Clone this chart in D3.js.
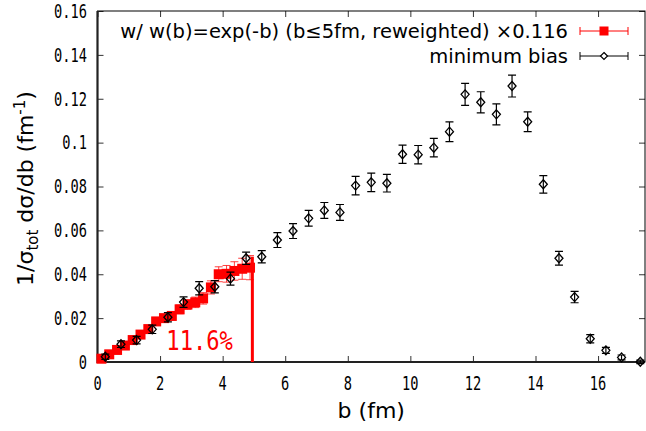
<!DOCTYPE html>
<html>
<head>
<meta charset="utf-8">
<script src="https://cdn.jsdelivr.net/npm/d3@7/dist/d3.min.js"></script>
<style>
  body { margin: 0; background: #fff; }
</style>
</head>
<body>
<div id="chart"></div>
<script>
// minimum bias
const mbB = [0.25, 0.75, 1.25, 1.75, 2.25, 2.75, 3.25, 3.75, 4.25, 4.75,
  5.25, 5.75, 6.25, 6.75, 7.25, 7.75, 8.25, 8.75, 9.25, 9.75,
  10.25, 10.75, 11.25, 11.75, 12.25, 12.75, 13.25, 13.75, 14.25, 14.75,
  15.25, 15.75, 16.25, 16.75, 17.35];
const mbVal = [0.0024, 0.0081, 0.0100, 0.0149, 0.0204, 0.0273, 0.0336, 0.0343, 0.0380, 0.0473,
  0.0480, 0.0556, 0.0597, 0.0655, 0.0691, 0.0682, 0.0804, 0.0819, 0.0815, 0.0947,
  0.0945, 0.0977, 0.1050, 0.1220, 0.1184, 0.1129, 0.1258, 0.1095, 0.0810, 0.0473,
  0.0296, 0.0106, 0.0053, 0.0021, 0.0001];
const mbErr = [0.0012, 0.0015, 0.0017, 0.0019, 0.0021, 0.0024, 0.0030, 0.0028, 0.0030, 0.0028,
  0.0028, 0.0034, 0.0034, 0.0036, 0.0036, 0.0036, 0.0042, 0.0042, 0.0040, 0.0042,
  0.0042, 0.0042, 0.0045, 0.0050, 0.0048, 0.0048, 0.0050, 0.0045, 0.0040, 0.0031,
  0.0026, 0.0019, 0.0014, 0.0011, 0.0008];

// w(b)=exp(-b), b<=5fm, reweighted x0.116
const rwB = [0.125, 0.375, 0.625, 0.875, 1.125, 1.375, 1.625, 1.875, 2.125, 2.375,
  2.625, 2.875, 3.125, 3.375, 3.625, 3.875, 4.125, 4.375, 4.625, 4.875];
const rwVal = [0.0015, 0.0035, 0.0055, 0.0075, 0.0100, 0.0125, 0.0150, 0.0185, 0.0200, 0.0210,
  0.0240, 0.0262, 0.0272, 0.0290, 0.0340, 0.0400, 0.0402, 0.0415, 0.0425, 0.0430];
const rwErr = [0.0004, 0.0006, 0.0008, 0.0009, 0.0010, 0.0012, 0.0013, 0.0015, 0.0016, 0.0018,
  0.0020, 0.0022, 0.0024, 0.0026, 0.0030, 0.0034, 0.0038, 0.0042, 0.0048, 0.0055];
const rwHalfBin = 0.125;

const cutB = 4.95;
const cutTop = 0.048;
const fractionText = '11.6%';
const fractionPos = [2.2, 0.010];

const xTicks = [0, 2, 4, 6, 8, 10, 12, 14, 16];
const yTicks = [0, 0.02, 0.04, 0.06, 0.08, 0.1, 0.12, 0.14, 0.16];
const legendLabels = ['w/ w(b)=exp(-b) (b\u22645fm, reweighted) \u00d70.116', 'minimum bias'];

function init(elem) {
  // svg
  const svgWidth = 646;
  const svgHeight = 431;
  const svg = d3.select(elem)
    .append('svg')
    .attr('width', svgWidth)
    .attr('height', svgHeight);

  // plot area
  const margin = { top: 11, right: 1, bottom: 69, left: 97.5 };
  const width = svgWidth - margin.left - margin.right;
  const height = svgHeight - margin.top - margin.bottom;
  const graph = svg.append('g')
    .attr('transform', `translate(${margin.left},${margin.top})`);

  const x = d3.scaleLinear().domain([0, 17.5]).range([0, width]);
  const y = d3.scaleLinear().domain([0, 0.16]).range([height, 0]);

  const tickColor = '#333';
  // inward ticks on all sides
  const axes = [
    [d3.axisBottom(x).tickValues(xTicks), `translate(0,${height})`],
    [d3.axisTop(x).tickValues(xTicks), 'translate(0,0)'],
    [d3.axisLeft(y).tickValues(yTicks), 'translate(0,0)'],
    [d3.axisRight(y).tickValues(yTicks), `translate(${width},0)`]
  ];
  axes.forEach(([ax, tr]) => {
    const g = graph.append('g')
      .attr('transform', tr)
      .call(ax.tickSize(-6).tickFormat(''));
    g.select('.domain').remove();
    g.selectAll('line').attr('stroke', tickColor).attr('stroke-width', 1);
  });

  // border
  graph.append('rect')
    .attr('width', width).attr('height', height)
    .attr('fill', 'none').attr('stroke', '#000').attr('stroke-width', 1);
  graph.append('path')
    .attr('d', `M0,0V${height}H${width}`)
    .attr('fill', 'none').attr('stroke', '#222').attr('stroke-width', 2.2);

  // tick labels (narrow mono)
  const tickFont = 'DejaVu Sans Mono, monospace';
  graph.append('g').selectAll('text')
    .data(xTicks)
    .join('text')
    .attr('transform', d => `translate(${x(d)},${height + 21}) scale(0.72,1)`)
    .attr('text-anchor', 'middle')
    .attr('dy', '0.36em')
    .attr('font-family', tickFont)
    .attr('font-size', 19)
    .text(d => d);
  graph.append('g').selectAll('text')
    .data(yTicks)
    .join('text')
    .attr('transform', d => `translate(-10.5,${y(d)}) scale(0.72,1)`)
    .attr('text-anchor', 'end')
    .attr('dy', '0.36em')
    .attr('font-family', tickFont)
    .attr('font-size', 19)
    .text(d => d3.format('~g')(d));

  // axis titles
  svg.append('text')
    .attr('x', margin.left + width / 2)
    .attr('y', 418)
    .attr('text-anchor', 'middle')
    .attr('font-family', 'DejaVu Sans, sans-serif')
    .attr('font-size', 22)
    .text('b (fm)');

  const yl = svg.append('text')
    .attr('transform', `translate(33,${margin.top + height / 2 + 2}) rotate(-90)`)
    .attr('text-anchor', 'middle')
    .attr('font-family', 'DejaVu Sans, sans-serif')
    .attr('font-size', 22);
  yl.append('tspan').text('1/\u03c3');
  yl.append('tspan').attr('font-size', 15).attr('dy', 5).text('tot');
  yl.append('tspan').attr('dy', -5).text(' d\u03c3/db (fm');
  yl.append('tspan').attr('font-size', 15).attr('dy', -8).text('-1');
  yl.append('tspan').attr('dy', 8).text(')');

  // reweighted series
  const rw = rwB.map((b, i) => ({ b, v: rwVal[i], e: rwErr[i] }));
  const red = '#ff0000';
  const rg = graph.append('g');
  rg.selectAll('path.err')
    .data(rw)
    .join('path')
    .attr('class', 'err')
    .attr('d', d => {
      const cx = x(d.b), cy = y(d.v);
      const y0 = y(d.v - d.e), y1 = y(d.v + d.e);
      const x0 = x(d.b - rwHalfBin), x1 = x(d.b + rwHalfBin);
      return `M${cx},${y0}V${y1}M${cx - 4},${y0}H${cx + 4}M${cx - 4},${y1}H${cx + 4}` +
        `M${x0},${cy}H${x1}M${x0},${cy - 4}V${cy + 4}M${x1},${cy - 4}V${cy + 4}`;
    })
    .attr('fill', 'none')
    .attr('stroke', red)
    .attr('stroke-opacity', 0.75)
    .attr('stroke-width', 1);
  rg.selectAll('rect')
    .data(rw)
    .join('rect')
    .attr('x', d => x(d.b) - 5)
    .attr('y', d => y(d.v) - 5)
    .attr('width', 10)
    .attr('height', 10)
    .attr('fill', red);

  // cut line at b=5fm
  graph.append('line')
    .attr('x1', x(cutB)).attr('x2', x(cutB))
    .attr('y1', y(0)).attr('y2', y(cutTop))
    .attr('stroke', red)
    .attr('stroke-width', 3);

  graph.append('text')
    .attr('transform', `translate(${x(fractionPos[0])},${y(fractionPos[1])}) scale(0.82,1)`)
    .attr('dy', '0.36em')
    .attr('font-family', tickFont)
    .attr('font-size', 27)
    .attr('fill', red)
    .text(fractionText);

  // minimum bias series
  const mb = mbB.map((b, i) => ({ b, v: mbVal[i], e: mbErr[i] }));
  const diamond = (cx, cy, w, h) => `M${cx},${cy - h}L${cx + w},${cy}L${cx},${cy + h}L${cx - w},${cy}Z`;
  const bg = graph.append('g');
  bg.selectAll('path.err')
    .data(mb)
    .join('path')
    .attr('class', 'err')
    .attr('d', d => {
      const cx = x(d.b);
      const y0 = y(d.v - d.e), y1 = y(d.v + d.e);
      return `M${cx},${y0}V${y1}M${cx - 4},${y0}H${cx + 4}M${cx - 4},${y1}H${cx + 4}`;
    })
    .attr('fill', 'none')
    .attr('stroke', '#000')
    .attr('stroke-width', 1.2);
  bg.selectAll('path.pt')
    .data(mb)
    .join('path')
    .attr('class', 'pt')
    .attr('d', d => diamond(x(d.b), y(d.v), 4, 4.5))
    .attr('fill', 'none')
    .attr('stroke', '#000')
    .attr('stroke-width', 1.3);

  // legend
  const lg = svg.append('g');
  const legendY = [31, 56];
  lg.selectAll('text')
    .data(legendLabels)
    .join('text')
    .attr('x', 568)
    .attr('y', (d, i) => legendY[i])
    .attr('dy', '0.35em')
    .attr('text-anchor', 'end')
    .attr('font-family', 'DejaVu Sans, sans-serif')
    .attr('font-size', 19.5)
    .text(d => d);
  const sampleColors = [red, '#000'];
  legendY.forEach((ly, i) => {
    lg.append('path')
      .attr('d', `M580,${ly}H628M580,${ly - 4}V${ly + 4}M628,${ly - 4}V${ly + 4}`)
      .attr('fill', 'none')
      .attr('stroke', sampleColors[i])
      .attr('stroke-width', 1);
  });
  lg.append('rect')
    .attr('x', 599.5).attr('y', legendY[0] - 4.5)
    .attr('width', 9).attr('height', 9)
    .attr('fill', red);
  lg.append('path')
    .attr('d', diamond(604, legendY[1], 3.5, 3.5))
    .attr('fill', '#fff')
    .attr('stroke', '#000')
    .attr('stroke-width', 1.2);
}

init(document.getElementById('chart'));
</script>
</body>
</html>
